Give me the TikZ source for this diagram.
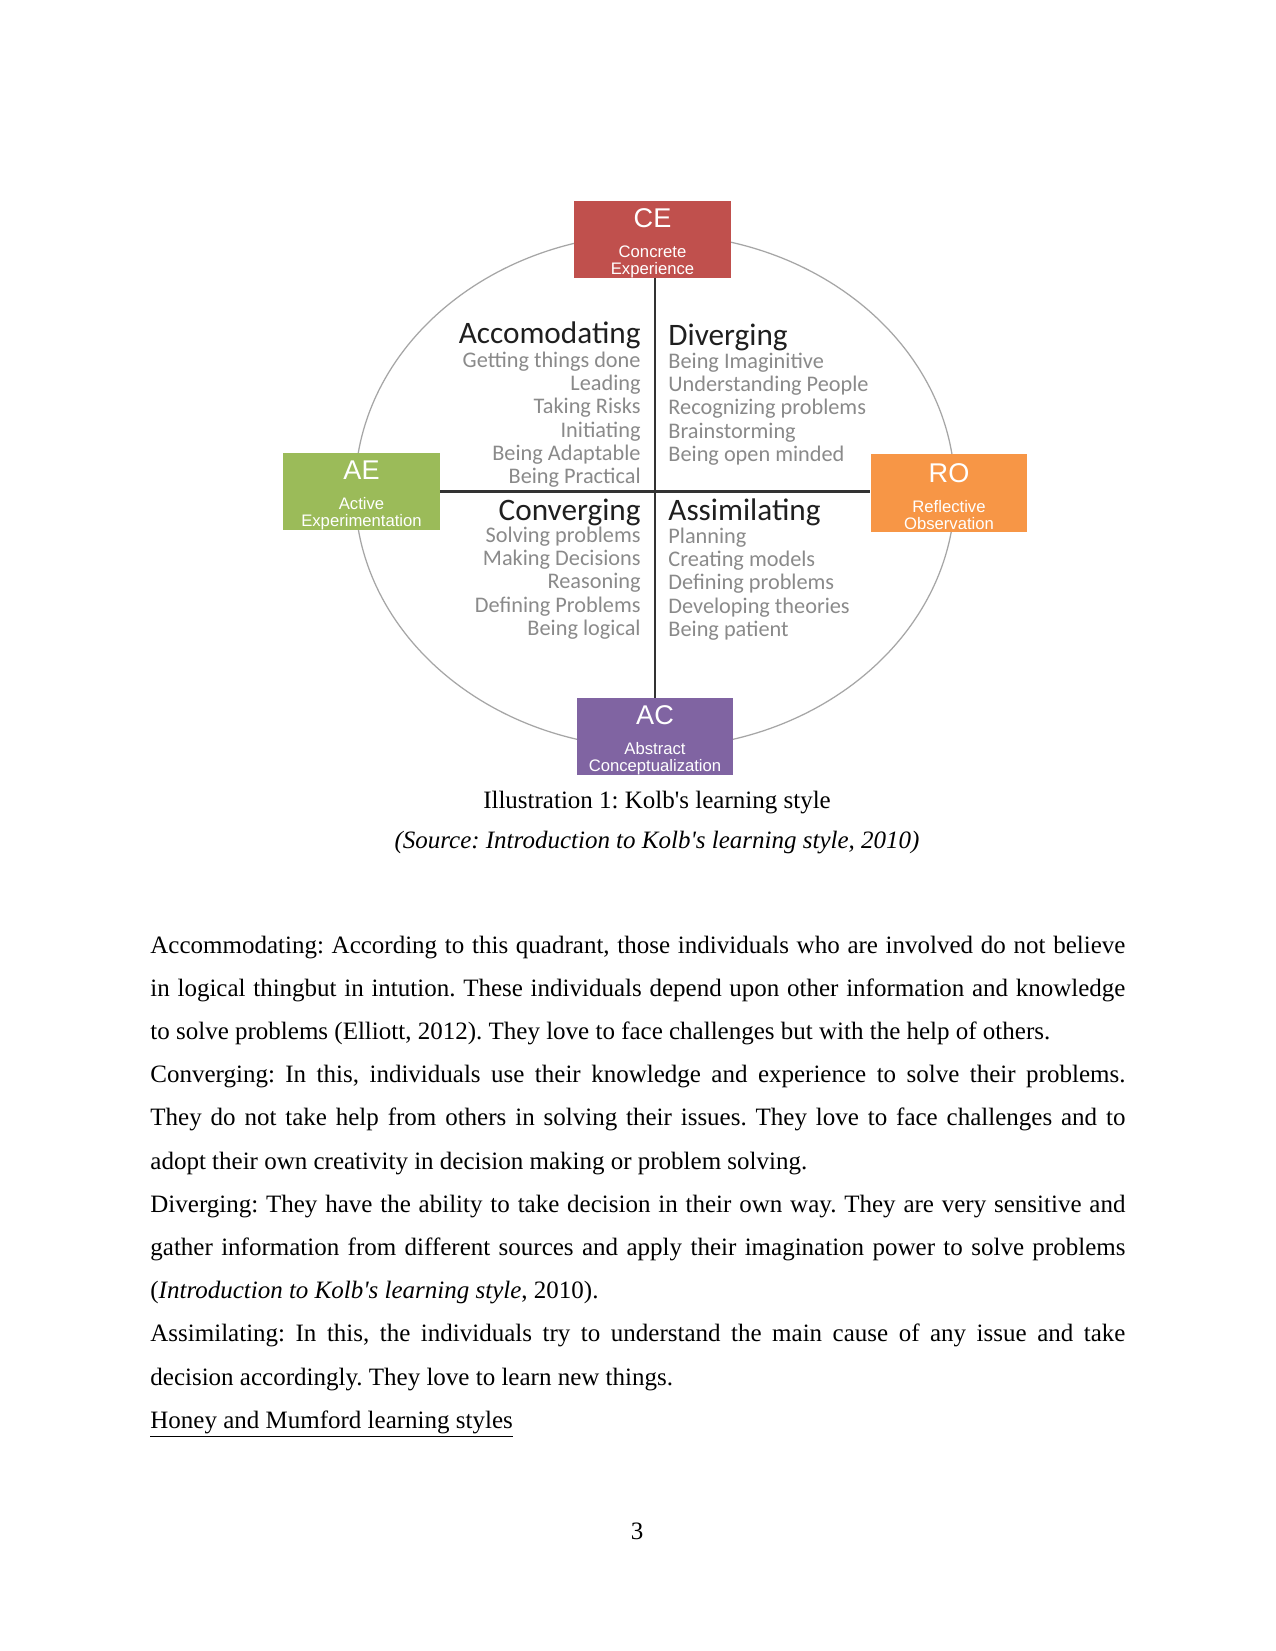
\documentclass[tikz,border=0pt]{standalone}
\usepackage{fontspec}
\setmainfont{Liberation Serif}
\newfontfamily\kolbfont{Carlito}
\newfontfamily\boxfont{Liberation Sans}
\usetikzlibrary{positioning, calc}
\definecolor{ceRed}{HTML}{C0504D}
\definecolor{aeGreen}{HTML}{9BBB59}
\definecolor{roOrange}{HTML}{F79646}
\definecolor{acPurple}{HTML}{8064A2}
\definecolor{itemGray}{HTML}{8A8A8A}
\definecolor{axisGray}{HTML}{333333}
\newcommand{\kapos}{\textquotesingle}
\newcommand{\modelabel}[1]{{\fontsize{13}{13}\selectfont\rule{0pt}{12.8pt}#1}}
\frenchspacing

\begin{document}
\begin{tikzpicture}[x=0.48pt, y=-0.48pt,
    modebox/.style={minimum width=75pt, minimum height=37pt, inner sep=0pt, align=center, text=white, font=\boxfont\fontsize{8}{8}\selectfont},
    quadhead/.style={inner sep=0pt, font=\kolbfont\fontsize{15}{15}\selectfont, text=black!88},
    quaditem/.style={inner sep=0pt, font=\kolbfont\fontsize{10.7}{10.7}\selectfont, text=itemGray},
    bodyline/.style={inner sep=0pt, anchor=base west, font=\fontsize{12}{12}\selectfont}]
    % Page
    \fill[white] (0,0) rectangle (1275,1651);
    \useasboundingbox (0,0) rectangle (1275,1651);

    % Cycle
    \draw[gray!70, line width=0.6pt] (655,491) ellipse [x radius=144pt, y radius=123.4pt];

    % Modes
    \node[modebox, fill=ceRed] (ce) at (652.5,239.5) {\modelabel{CE}\\[6.4pt]Concrete\\Experience};
    \node[modebox, fill=aeGreen] (ae) at (361.5,491.5) {\modelabel{AE}\\[6.4pt]Active\\Experimentation};
    \node[modebox, fill=roOrange] (ro) at (949,493) {\modelabel{RO}\\[6.4pt]Reflective\\Observation};
    \node[modebox, fill=acPurple] (ac) at (655,736.5) {\modelabel{AC}\\[6.4pt]Abstract\\Conceptualization};

    % Axes
    \draw[axisGray, line width=1pt] (ce.south -| ac.north) -- (ac.north);
    \draw[axisGray, line width=1pt] (ae.east) -- (ae.east -| ro.west);

    % Quadrants
    \node[quadhead, anchor=base east] (accom) at (641,343.7) {Accomodating};
    \foreach \t [count=\i] in {Getting things done, Leading, Taking Risks, Initiating, Being Adaptable, Being Practical}
        \node[quaditem, anchor=base east] (accom\i) at (641,344.6+23.1*\i) {\t};
    \node[quadhead, anchor=base west] (diver) at (668,345.5) {Diverging};
    \foreach \t [count=\i] in {Being Imaginitive, Understanding People, Recognizing problems, Brainstorming, Being open minded}
        \node[quaditem, anchor=base west] (diver\i) at (668,345.6+23.1*\i) {\t};
    \node[quadhead, anchor=base east] (conv) at (641,520) {Converging};
    \foreach \t [count=\i] in {Solving problems, Making Decisions, Reasoning, Defining Problems, Being logical}
        \node[quaditem, anchor=base east] (conv\i) at (641,519.6+23.1*\i) {\t};
    \node[quadhead, anchor=base west] (assim) at (668,520) {Assimilating};
    \foreach \t [count=\i] in {Planning, Creating models, Defining problems, Developing theories, Being patient}
        \node[quaditem, anchor=base west] (assim\i) at (668,520.6+23.1*\i) {\t};

    % Caption
    \node[inner sep=0pt, anchor=base, font=\fontsize{12}{12}\selectfont] (caption) at (657,808) {Illustration 1: Kolb\kapos s learning style};
    \node[inner sep=0pt, anchor=base, font=\fontsize{12}{12}\selectfont\itshape] (source) at (657,848) {(Source: Introduction to Kolb\kapos s learning style, 2010)};

    % Body text
    \node[bodyline] (line1) at (150,953) {\makebox[468pt][s]{Accommodating: According to this quadrant, those individuals who are involved do not believe}};
    \node[bodyline] (line2) at (150,996.2) {\makebox[468pt][s]{in logical thingbut in intution. These individuals depend upon other information and knowledge}};
    \node[bodyline] (line3) at (150,1039.4) {to solve problems (Elliott, 2012). They love to face challenges but with the help of others.};
    \node[bodyline] (line4) at (150,1082.6) {\makebox[468pt][s]{Converging: In this, individuals use their knowledge and experience to solve their problems.}};
    \node[bodyline] (line5) at (150,1125.8) {\makebox[468pt][s]{They do not take help from others in solving their issues. They love to face challenges and to}};
    \node[bodyline] (line6) at (150,1169) {adopt their own creativity in decision making or problem solving.};
    \node[bodyline] (line7) at (150,1212.2) {\makebox[468pt][s]{Diverging: They have the ability to take decision in their own way. They are very sensitive and}};
    \node[bodyline] (line8) at (150,1255.4) {\makebox[468pt][s]{gather information from different sources and apply their imagination power to solve problems}};
    \node[bodyline] (line9) at (150,1298.6) {(\textit{Introduction to Kolb\kapos s learning style}, 2010).};
    \node[bodyline] (line10) at (150,1341.8) {\makebox[468pt][s]{Assimilating: In this, the individuals try to understand the main cause of any issue and take}};
    \node[bodyline] (line11) at (150,1385) {decision accordingly. They love to learn new things.};
    \node[bodyline] (line12) at (150,1428.2) {\underline{Honey and Mumford learning styles}};

    % Page number
    \node[inner sep=0pt, anchor=base, font=\fontsize{12}{12}\selectfont] (pagenum) at (637,1539) {3};
\end{tikzpicture}
\end{document}
